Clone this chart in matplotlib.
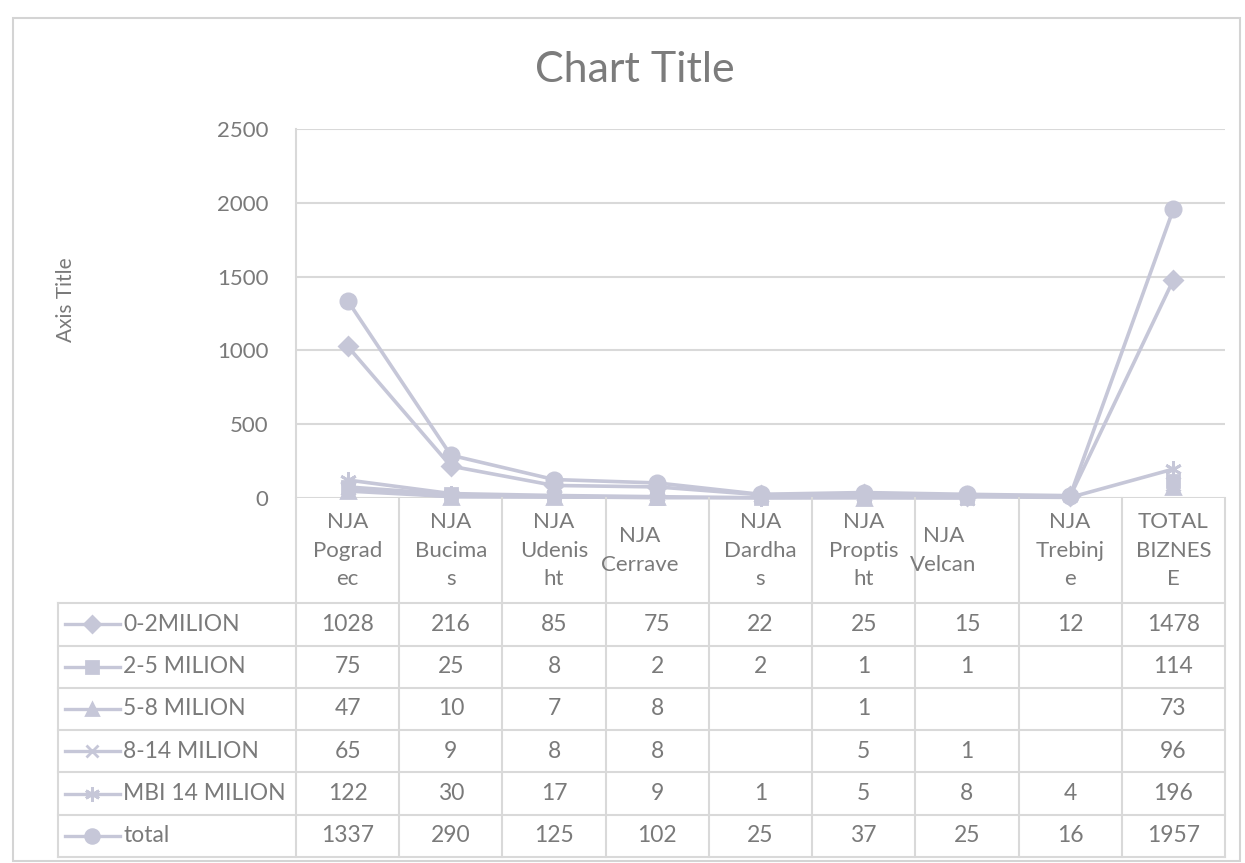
import numpy as np
import matplotlib.pyplot as plt
from matplotlib.patches import Rectangle
from matplotlib.lines import Line2D

plt.rcParams['font.family'] = ['Lato', 'DejaVu Sans']

categories = ['NJA\nPograd\nec', 'NJA\nBucima\ns', 'NJA\nUdenis\nht', 'NJA\nCerrave',
              'NJA\nDardha\ns', 'NJA\nProptis\nht', 'NJA\nVelcan', 'NJA\nTrebinj\ne',
              'TOTAL\nBIZNES\nE']

series_names = ['0-2MILION', '2-5 MILION', '5-8 MILION', '8-14 MILION', 'MBI 14 MILION', 'total']
s_0_2 = [1028, 216, 85, 75, 22, 25, 15, 12, 1478]
s_2_5 = [75, 25, 8, 2, 2, 1, 1, None, 114]
s_5_8 = [47, 10, 7, 8, None, 1, None, None, 73]
s_8_14 = [65, 9, 8, 8, None, 5, 1, None, 96]
s_mbi_14 = [122, 30, 17, 9, 1, 5, 8, 4, 196]
s_total = [1337, 290, 125, 102, 25, 37, 25, 16, 1957]
series_values = [s_0_2, s_2_5, s_5_8, s_8_14, s_mbi_14, s_total]

# excel default marker per series: diamond, square, triangle, x, star, circle
markers = ['D', 's', '^', 'x', (6, 2, 0), 'o']
marker_sizes = [9, 9, 10, 10, 12, 11]

LINE_COLOR = '#c6c7d8'
TEXT_COLOR = '#7a7a7a'
GRID_COLOR = '#d9d9d9'

W, H = 1245, 863


def fig_rect(x0, y0, x1, y1):
    # pixel box (top-left origin) -> figure fraction [left, bottom, width, height]
    return [x0 / W, 1 - y1 / H, (x1 - x0) / W, (y1 - y0) / H]


def to_array(vals):
    return np.array([np.nan if v is None else v for v in vals], dtype=float)


fig = plt.figure(figsize=(W / 100, H / 100), dpi=100)
fig.patch.set_facecolor('white')

# chart frame
fig.patches.append(Rectangle((13 / W, 1 - 861 / H), 1227 / W, 843 / H, transform=fig.transFigure,
                             fill=False, edgecolor='#d4d4d4', linewidth=1.5))

fig.text(635 / W, 1 - 70 / H, 'Chart Title', ha='center', va='center', fontsize=31, color='#7c7c7c')
fig.text(66 / W, 1 - 300 / H, 'Axis Title', ha='center', va='center', rotation=90,
         fontsize=15, color=TEXT_COLOR)

# plot area ---------------------------------------------------------------------------------------------------------
ax = fig.add_axes(fig_rect(296, 129, 1225, 498))
x = np.arange(len(categories))
for vals, mk, ms in zip(series_values, markers, marker_sizes):
    ax.plot(x, to_array(vals), '-', color=LINE_COLOR, linewidth=2.6, marker=mk, markersize=ms,
            markerfacecolor=LINE_COLOR, markeredgecolor=LINE_COLOR, markeredgewidth=2, clip_on=False, zorder=3)

ax.set_xlim(-0.5, len(categories) - 0.5)
ax.set_ylim(0, 2500)
ax.set_yticks(np.arange(0, 2501, 500))
ax.set_xticks([])
ax.grid(axis='y', color=GRID_COLOR, linewidth=1.5)
ax.set_axisbelow(True)
for side in ['top', 'right', 'bottom']:
    ax.spines[side].set_visible(False)
ax.spines['left'].set_color(GRID_COLOR)
ax.spines['left'].set_linewidth(1.5)
ax.tick_params(axis='y', length=0, pad=20, labelsize=16, labelcolor=TEXT_COLOR)

# data table ----------------------------------------------------------------------------------------------------------
n_cols = len(categories)
n_rows = len(series_names)
label_w = 238 / 103.2          # row-label column width in category units
hdr_h = 105 / 42.2             # header height in row units
x_left = -0.5 - label_w

tab = fig.add_axes(fig_rect(58, 498, 1225, 857))
tab.set_xlim(x_left, n_cols - 0.5)
tab.set_ylim(n_rows, -hdr_h)
tab.axis('off')

for r in range(n_rows + 1):
    tab.plot([x_left, n_cols - 0.5], [r, r], color=GRID_COLOR, linewidth=1.5, clip_on=False)
tab.plot([x_left, x_left], [0, n_rows], color=GRID_COLOR, linewidth=1.5, clip_on=False)
for c in range(n_cols + 1):
    tab.plot([c - 0.5, c - 0.5], [-hdr_h, n_rows], color=GRID_COLOR, linewidth=1.5, clip_on=False)

# category headers; the two-line ones sit against the left edge of their cell
for c, lab in enumerate(categories):
    if lab.count('\n') == 1:
        tab.text(c - 0.55, -hdr_h / 2, lab, ha='left', va='center', multialignment='center',
                 fontsize=16, color=TEXT_COLOR, linespacing=1.55)
    else:
        tab.text(c, -hdr_h / 2, lab, ha='center', va='center', multialignment='center',
                 fontsize=16, color=TEXT_COLOR, linespacing=1.55)

for r, (name, vals, mk, ms) in enumerate(zip(series_names, series_values, markers, marker_sizes)):
    yc = r + 0.5
    tab.add_line(Line2D([x_left + 0.07, x_left + 0.60], [yc, yc], color=LINE_COLOR, linewidth=2.4))
    tab.plot([x_left + 0.33], [yc], marker=mk, markersize=ms * 0.9, color=LINE_COLOR,
             markerfacecolor=LINE_COLOR, markeredgewidth=2)
    tab.text(x_left + 0.63, yc, name, ha='left', va='center', fontsize=16.5, color=TEXT_COLOR)
    for c, v in enumerate(vals):
        if v is not None:
            tab.text(c, yc, str(v), ha='center', va='center', fontsize=16.5, color=TEXT_COLOR)

plt.savefig('out.png', dpi=100)
